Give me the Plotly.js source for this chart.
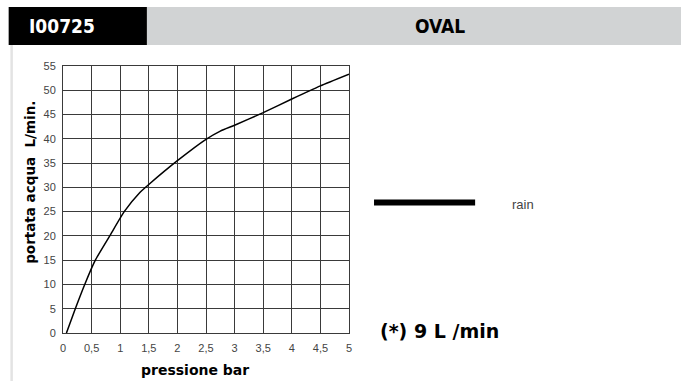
<!DOCTYPE html>
<html>
<head>
<meta charset="utf-8">
<script src="https://cdn.plot.ly/plotly-3.0.1.min.js"></script>
<style>html,body{margin:0;padding:0;background:#fff;}#chart{width:681px;height:381px;}</style>
</head>
<body>
<div id="chart"></div>
<script>
// Data
const pressure = [0.06, 0.215, 0.38, 0.565, 0.817, 1.07, 1.34, 1.5, 2.0, 2.5, 2.75, 3.0, 3.5, 4.0, 4.5, 5.0];
const flow     = [0, 5, 10, 15, 20, 25, 28.9, 30.6, 35.5, 39.9, 41.6, 42.8, 45.4, 48.2, 50.9, 53.3];
const xTickVals = [0, 0.5, 1, 1.5, 2, 2.5, 3, 3.5, 4, 4.5, 5];
const xTickText = ["0", "0,5", "1", "1,5", "2", "2,5", "3", "3,5", "4", "4,5", "5"];
const yTickVals = [0, 5, 10, 15, 20, 25, 30, 35, 40, 45, 50, 55];
const seriesName = "rain";
const headerCode = "I00725";
const headerModel = "OVAL";
const noteText = "(*) 9 L /min";
const xTitle = "pressione bar";
const yTitle = "portata acqua&nbsp; L/min.";

const gridCol = "#3a3a3a";
const tickFont = {family: "Liberation Sans, Arial, sans-serif", size: 11, color: "#444"};
const boldFont = "DejaVu Sans, Liberation Sans, Arial, sans-serif";

const trace = {
  x: pressure, y: flow, type: "scatter", mode: "lines", name: seriesName,
  line: {color: "#000", width: 1.5, shape: "spline", smoothing: 0.5}, showlegend: false, hoverinfo: "x+y"
};

const layout = {
  width: 681, height: 381,
  margin: {l: 63, r: 332, t: 66, b: 48},
  paper_bgcolor: "#fff", plot_bgcolor: "#fff",
  showlegend: false,
  xaxis: {
    range: [0, 5], tickvals: xTickVals, ticktext: xTickText,
    showgrid: true, gridcolor: gridCol, gridwidth: 1,
    showline: true, linecolor: gridCol, linewidth: 1, mirror: true,
    zeroline: false, ticks: "", tickfont: tickFont, ticklabelstandoff: 5,
    fixedrange: true
  },
  yaxis: {
    range: [0, 55], tickvals: yTickVals,
    showgrid: true, gridcolor: gridCol, gridwidth: 1,
    showline: true, linecolor: gridCol, linewidth: 1, mirror: true,
    zeroline: false, ticks: "", tickfont: tickFont, ticklabelstandoff: 4,
    fixedrange: true
  },
  shapes: [
    {type: "rect", xref: "paper", yref: "paper", x0: 0.2933, x1: 2.17, y0: 1.0788, y1: 1.2213,
     fillcolor: "#d1d3d4", line: {width: 0}, layer: "below"},
    {type: "rect", xref: "paper", yref: "paper", x0: -0.19, x1: 0.2933, y0: 1.0788, y1: 1.2213,
     fillcolor: "#000", line: {width: 0}, layer: "below"},
    {type: "line", xref: "paper", yref: "paper", x0: -0.1796, x1: -0.1796, y0: 1.0788, y1: -0.19,
     line: {color: "#e3e3e3", width: 2.5}, layer: "below"},
    {type: "line", xref: "paper", yref: "paper", x0: 1.0875, x1: 1.441, y0: 0.489, y1: 0.489,
     line: {color: "#000", width: 6}}
  ],
  annotations: [
    {text: headerCode, xref: "paper", yref: "paper", x: -0.1271, y: 1.150, xanchor: "left", yanchor: "middle",
     showarrow: false, font: {family: "DejaVu Sans Condensed, DejaVu Sans, sans-serif", size: 19, color: "#fff", weight: "bold"}},
    {text: headerModel, xref: "paper", yref: "paper", x: 1.3184, y: 1.150, xanchor: "center", yanchor: "middle",
     showarrow: false, font: {family: "DejaVu Sans Condensed, DejaVu Sans, sans-serif", size: 19, color: "#000", weight: "bold"}},
    {text: seriesName, xref: "paper", yref: "paper", x: 1.5635, y: 0.4826, xanchor: "left", yanchor: "middle",
     showarrow: false, font: {family: "Liberation Sans, Arial, sans-serif", size: 13, color: "#444"}},
    {text: noteText, xref: "paper", yref: "paper", x: 1.1015, y: 0.0064, xanchor: "left", yanchor: "middle",
     showarrow: false, font: {family: boldFont, size: 19, color: "#000", weight: "bold"}},
    {text: xTitle, xref: "paper", yref: "paper", x: 0.4627, y: -0.1399, xanchor: "center", yanchor: "middle",
     showarrow: false, font: {family: boldFont, size: 14, color: "#000", weight: "bold"}},
    {text: yTitle, xref: "paper", yref: "paper", x: -0.1166, y: 0.565, xanchor: "center", yanchor: "middle",
     textangle: -90, showarrow: false, font: {family: boldFont, size: 13.5, color: "#000", weight: "bold"}}
  ]
};

Plotly.newPlot("chart", [trace], layout, {displayModeBar: false, staticPlot: true});
</script>
</body>
</html>
